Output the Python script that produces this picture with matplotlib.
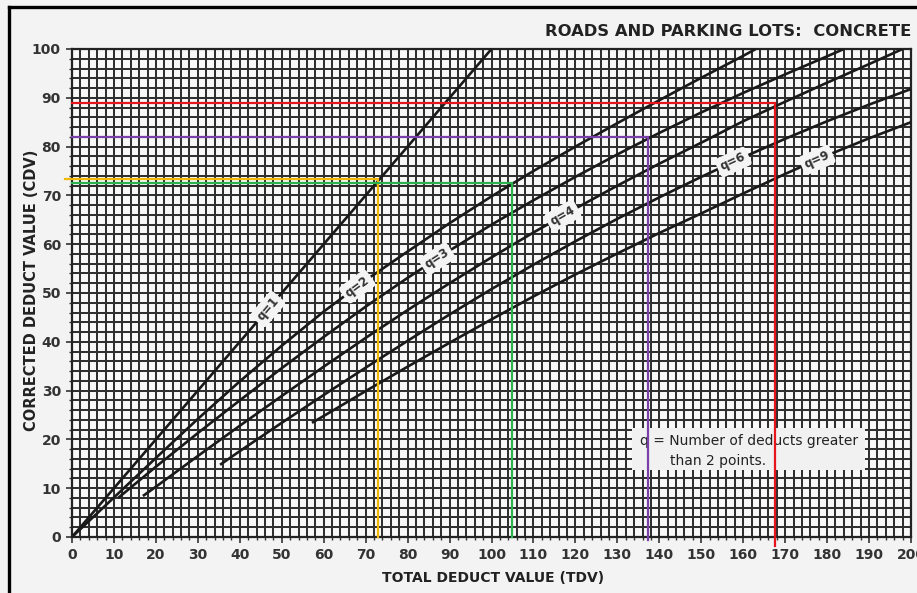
import numpy as np
import matplotlib.pyplot as plt
from matplotlib.lines import Line2D
from matplotlib.patches import Rectangle

# corrected deduct value curves, one per number of deducts q
q1_tdv = [0, 100]
q1_cdv = [0, 100]
q2_tdv = [0, 10, 20, 30, 40, 50, 60, 70, 80, 90, 100, 110, 120, 130, 140, 150, 160, 163]
q2_cdv = [0, 8.1, 16.2, 24.2, 31.9, 39.2, 46.2, 52.6, 58.5, 64.3, 69.8, 75.0, 80.0, 84.8, 89.5, 94.1, 98.6, 100]
q3_tdv = [11, 20, 30, 40, 50, 60, 70, 80, 90, 100, 110, 120, 130, 140, 150, 160, 170, 180, 184]
q3_cdv = [8, 14.4, 21.3, 28.0, 34.6, 41.0, 47.2, 53.1, 58.7, 64.0, 69.0, 73.8, 78.4, 82.8, 87.0, 91.0, 94.8, 98.5, 100]
q4_tdv = [16.9, 20, 30, 40, 50, 60, 70, 80, 90, 100, 110, 120, 130, 140, 150, 160, 170, 180, 190, 198]
q4_cdv = [8.4, 10.3, 16.6, 22.8, 28.9, 34.9, 40.8, 46.5, 52.0, 57.3, 62.4, 67.3, 72.0, 76.5, 80.8, 85.2, 89.2, 93.1, 96.9, 100]
q6_tdv = [35.3, 40, 50, 60, 70, 80, 90, 100, 110, 120, 130, 140, 150, 160, 170, 180, 190, 200]
q6_cdv = [14.8, 17.6, 23.4, 29.1, 34.7, 40.2, 45.6, 50.8, 55.8, 60.6, 65.2, 69.6, 73.8, 77.8, 81.6, 85.2, 88.6, 91.8]
q9_tdv = [57.2, 60, 70, 80, 90, 100, 110, 120, 130, 140, 150, 160, 170, 180, 190, 200]
q9_cdv = [23.4, 24.8, 29.9, 34.9, 39.8, 44.6, 49.3, 53.8, 58.1, 62.3, 66.3, 70.4, 74.4, 78.2, 81.7, 85.0]

curve_names = ['q=1', 'q=2', 'q=3', 'q=4', 'q=6', 'q=9']
curve_tdv = [q1_tdv, q2_tdv, q3_tdv, q4_tdv, q6_tdv, q9_tdv]
curve_cdv = [q1_cdv, q2_cdv, q3_cdv, q4_cdv, q6_cdv, q9_cdv]
label_at = [46.7, 68, 87, 117, 157.6, 177.6]

# worked example: TDV read on each curve and the CDV it gives
read_tdv = [73, 105, 137.3, 167.6]
read_cdv = [73.4, 72.5, 82, 89]
read_colors = ['#f2b705', '#2bb24c', '#7a3fa8', '#e8141b']

x_ticks = list(range(0, 201, 10))
y_ticks = list(range(0, 101, 10))

W, H = 917, 593
fig = plt.figure(figsize=(W / 100, H / 100), dpi=100, facecolor='#f3f3f3')
ax = fig.add_axes([72 / W, 56 / H, 839 / W, 488 / H])
ax.set_facecolor('#f8f8f8')
ax.set_xlim(0, 200)
ax.set_ylim(0, 100)

ax.set_xticks(x_ticks)
ax.set_yticks(y_ticks)
ax.set_xticks(np.arange(0, 201, 2), minor=True)
ax.set_yticks(np.arange(0, 101, 2), minor=True)
ax.grid(which='both', color='#303030', lw=1.45, zorder=1)
ax.set_axisbelow(True)
ax.tick_params(which='major', length=4, width=1.2, color='#333', pad=4,
               labelsize=10, labelcolor='#333')
ax.tick_params(which='minor', length=2, width=1, color='#333')
for lab in ax.get_xticklabels() + ax.get_yticklabels():
    lab.set_fontweight('bold')
    lab.set_family('DejaVu Sans')
for s in ax.spines.values():
    s.set_color('#222')
    s.set_linewidth(1.6)

for tdv, cdv in zip(curve_tdv, curve_cdv):
    ax.plot(tdv, cdv, color='#1a1a1a', lw=1.9, zorder=3, solid_capstyle='butt')

# curve labels, turned to follow each curve
for name, tdv, cdv, x0 in zip(curve_names, curve_tdv, curve_cdv, label_at):
    y0 = np.interp(x0, tdv, cdv)
    p1 = ax.transData.transform((x0 - 3, np.interp(x0 - 3, tdv, cdv)))
    p2 = ax.transData.transform((x0 + 3, np.interp(x0 + 3, tdv, cdv)))
    ang = np.degrees(np.arctan2(p2[1] - p1[1], p2[0] - p1[0]))
    ax.text(x0, y0, name, rotation=ang, rotation_mode='anchor', ha='center', va='center',
            fontsize=8.5, fontweight='bold', color='#333', family='DejaVu Sans', zorder=4,
            bbox=dict(boxstyle='round,pad=0.3', fc='#f4f4f4', ec='none'))

# note box for q
ax.add_patch(Rectangle((133.5, 13.7), 55.5, 8.6, fc='#f1f1f1', ec='none', zorder=4))
ax.text(135.5, 19.6, 'q = Number of deducts greater', fontsize=10, color='#222',
        va='center', family='DejaVu Sans', zorder=5)
ax.text(142.5, 15.6, 'than 2 points.', fontsize=10, color='#222',
        va='center', family='DejaVu Sans', zorder=5)

# reading lines
starts = [-1.7, 0, 0, 0]
ends = [0, 0, -0.6, -1.8]
for x, y, c, x0, y1 in zip(read_tdv, read_cdv, read_colors, starts, ends):
    ax.plot([x0, x, x], [y, y, y1], color=c, lw=1.6, zorder=6, clip_on=False,
            solid_joinstyle='miter')

fig.text(911 / W, 1 - 32 / H, 'ROADS AND PARKING LOTS:  CONCRETE', ha='right', va='center',
         fontsize=11.8, fontweight='bold', color='#222', family='DejaVu Sans')
fig.text(493 / W, 1 - 578 / H, 'TOTAL DEDUCT VALUE (TDV)', ha='center', va='center',
         fontsize=10, fontweight='bold', color='#222', family='DejaVu Sans')
fig.text(32 / W, 1 - 290 / H, 'CORRECTED DEDUCT VALUE (CDV)', ha='center', va='center',
         rotation=90, fontsize=10.5, fontweight='bold', color='#222', family='DejaVu Sans')

# black frame round the sheet
fig.add_artist(Line2D([9 / W, 9 / W], [0, 1 - 7 / H], transform=fig.transFigure, color='k', lw=2.4))
fig.add_artist(Line2D([9 / W, 1], [1 - 7 / H, 1 - 7 / H], transform=fig.transFigure, color='k', lw=2.4))

fig.savefig('out.png', dpi=100, facecolor=fig.get_facecolor())
